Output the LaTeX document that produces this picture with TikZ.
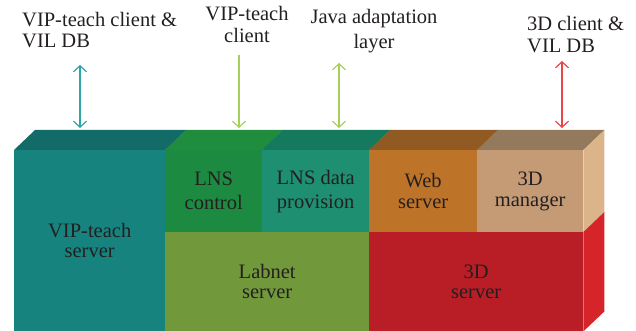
\documentclass[tikz,border=0pt]{standalone}
\usepackage{fontspec}
\setmainfont{Liberation Serif}
\usetikzlibrary{arrows.meta}

\definecolor{txt}{HTML}{231F20}
\definecolor{vipfront}{HTML}{17837F}
\definecolor{viptop}{HTML}{136B68}
\definecolor{ctrlfront}{HTML}{1D8A42}
\definecolor{ctrltop}{HTML}{208C3D}
\definecolor{datafront}{HTML}{1F8F72}
\definecolor{datatop}{HTML}{157A5D}
\definecolor{labnetfront}{HTML}{71993C}
\definecolor{webfront}{HTML}{BD7429}
\definecolor{webtop}{HTML}{915A23}
\definecolor{mgrfront}{HTML}{C49B75}
\definecolor{mgrtop}{HTML}{937A5C}
\definecolor{mgrside}{HTML}{DBB48A}
\definecolor{srvfront}{HTML}{B91D25}
\definecolor{srvside}{HTML}{D6252A}
\definecolor{linkteal}{HTML}{2DA5AA}
\definecolor{linkgreen}{HTML}{A6CF5B}
\definecolor{linkred}{HTML}{E9464B}

\tikzset{
  face/.style={anchor=north west, inner sep=0pt, align=center, text=txt,
    font=\fontsize{20.5}{20.5}\selectfont},
  caption/.style={inner sep=0pt, text=txt},
  link/.style={line width=1.2pt,
    {Straight Barb[length=6pt,width=13pt]}-{Straight Barb[length=6pt,width=13pt]}},
  feed/.style={line width=1.2pt, -{Straight Barb[length=6pt,width=13pt]}}
}

\begin{document}
\begin{tikzpicture}[x=1pt,y=-1pt]
    \useasboundingbox (0,0) rectangle (636,331);

    % front faces
    \node [face, fill=vipfront, minimum width=151pt, minimum height=181pt]
        (vip) at (14,150) {VIP-teach\\server};
    \node [face, fill=ctrlfront, minimum width=97pt, minimum height=82pt,
        font=\fontsize{20.5}{24}\selectfont]
        (lnsctrl) at (165,150) {LNS\\control};
    \node [face, fill=datafront, minimum width=107pt, minimum height=82pt,
        font=\fontsize{20.5}{24}\selectfont]
        (lnsdata) at (262,150) {LNS data\\provision};
    \node [face, fill=labnetfront, minimum width=204pt, minimum height=99pt]
        (labnet) at (165,232) {Labnet\\server};
    \node [face, fill=webfront, minimum width=108pt, minimum height=82pt]
        (web) at (369,150) {Web\\server};
    \node [face, fill=mgrfront, minimum width=106pt, minimum height=82pt]
        (mgr) at (477,150) {3D\\manager};
    \node [face, fill=srvfront, minimum width=214pt, minimum height=99pt]
        (srv) at (369,232) {3D\\server};

    % top and side faces
    \fill [viptop] (vip.north west) -- ++(21,-20)
        -- ([shift={(21,-20)}]vip.north east) -- (vip.north east) -- cycle;
    \fill [ctrltop] (lnsctrl.north west) -- ++(21,-20)
        -- ([shift={(21,-20)}]lnsctrl.north east) -- (lnsctrl.north east) -- cycle;
    \fill [datatop] (lnsdata.north west) -- ++(21,-20)
        -- ([shift={(21,-20)}]lnsdata.north east) -- (lnsdata.north east) -- cycle;
    \fill [webtop] (web.north west) -- ++(21,-20)
        -- ([shift={(21,-20)}]web.north east) -- (web.north east) -- cycle;
    \fill [mgrtop] (mgr.north west) -- ++(21,-20)
        -- ([shift={(21,-20)}]mgr.north east) -- (mgr.north east) -- cycle;
    \fill [mgrside] (mgr.north east) -- ++(21,-20)
        -- ([shift={(21,-20)}]mgr.south east) -- (mgr.south east) -- cycle;
    \fill [srvside] (srv.north east) -- ++(21,-20)
        -- ([shift={(21,-20)}]srv.south east) -- (srv.south east) -- cycle;

    % clients
    \node [caption, anchor=north west, align=left,
        font=\fontsize{20.5}{21.5}\selectfont]
        (vipclientdb) at (22,12) {VIP-teach client \&\\VIL DB};
    \node [caption, anchor=north, align=center,
        font=\fontsize{20.5}{22}\selectfont]
        (vipclient) at (247,6) {VIP-teach\\client};
    \node [caption, anchor=north, align=center,
        font=\fontsize{20.5}{25}\selectfont]
        (javalayer) at (374,9) {Java adaptation\\layer};
    \node [caption, anchor=north west, align=left,
        font=\fontsize{20.5}{22}\selectfont]
        (client3d) at (527,16) {3D client \&\\VIL DB};

    \coordinate (vipup) at (80,65);
    \coordinate (vipdown) at (80,128);
    \coordinate (ctrlup) at (239,55);
    \coordinate (ctrldown) at (239,128);
    \coordinate (dataup) at (339,63);
    \coordinate (datadown) at (339,128);
    \coordinate (mgrup) at (562,61);
    \coordinate (mgrdown) at (562,128);

    \draw [link, linkteal] (vipup) -- (vipdown);
    \draw [feed, linkgreen] (ctrlup) -- (ctrldown);
    \draw [link, linkgreen] (dataup) -- (datadown);
    \draw [link, linkred] (mgrup) -- (mgrdown);
\end{tikzpicture}
\end{document}
